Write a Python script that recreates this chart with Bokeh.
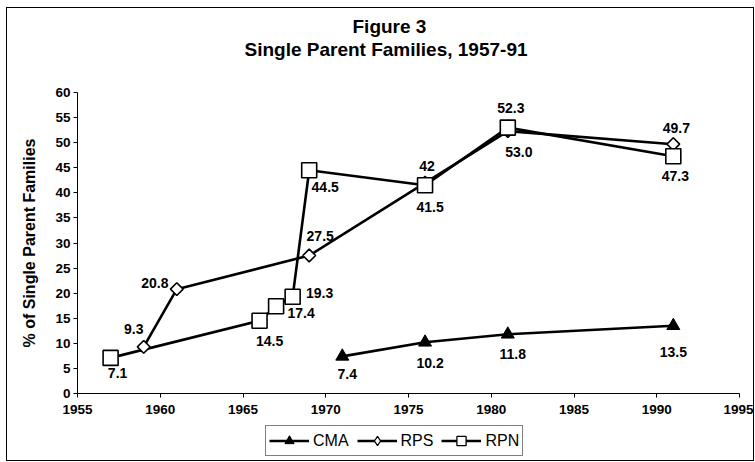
from bokeh.plotting import figure
from bokeh.layouts import column
from bokeh.models import Legend, LegendItem, Title, FixedTicker, ColumnDataSource, Range1d
from bokeh.core.properties import value
from bokeh.embed import file_html
from bokeh.resources import INLINE
import math

# ---------------- data ----------------
cma_years = [1971, 1976, 1981, 1991]
cma_values = [7.4, 10.2, 11.8, 13.5]
cma_labels = ["7.4", "10.2", "11.8", "13.5"]

rps_years = [1959, 1961, 1969, 1976, 1981, 1991]
rps_values = [9.3, 20.8, 27.5, 42, 52.3, 49.7]
rps_labels = ["9.3", "20.8", "27.5", "42", "52.3", "49.7"]

rpn_years = [1957, 1966, 1967, 1968, 1969, 1976, 1981, 1991]
rpn_values = [7.1, 14.5, 17.4, 19.3, 44.5, 41.5, 53.0, 47.3]
rpn_labels = ["7.1", "14.5", "17.4", "19.3", "44.5", "41.5", "53.0", "47.3"]

x_ticks = [1955, 1960, 1965, 1970, 1975, 1980, 1985, 1990, 1995]
y_ticks = [0, 5, 10, 15, 20, 25, 30, 35, 40, 45, 50, 55, 60]

# label placement offsets in screen pixels (style only)
cma_dx = [5, 5, 5, 0]
cma_dy = [18, 21, 20, 26]
rps_dx = [-10, -22, 11, 2, 3, 3]
rps_dy = [-18, -6, -20, -17, -23, -16]
rpn_dx = [7, 10, 25, 27, 16, 5, 11, 2]
rpn_dy = [15, 20, 7, -4, 17, 22, 24, 20]

FONT = "Liberation Sans"

cma_src = ColumnDataSource(dict(x=cma_years, y=cma_values, t=cma_labels, dx=cma_dx, dy=cma_dy))
rps_src = ColumnDataSource(dict(x=rps_years, y=rps_values, t=rps_labels, dx=rps_dx, dy=rps_dy))
rpn_src = ColumnDataSource(dict(x=rpn_years, y=rpn_values, t=rpn_labels, dx=rpn_dx, dy=rpn_dy))

p = figure(frame_width=662, frame_height=301, x_range=(1955, 1995), y_range=(0, 60),
           output_backend="svg", toolbar_location=None,
           min_border_left=70, min_border_right=14, min_border_top=84, min_border_bottom=28)
p.outline_line_color = None
p.xgrid.visible = False
p.ygrid.visible = False
p.background_fill_color = "white"
p.border_fill_color = "white"

# titles (spacer nearest the frame, then the two title lines)
title_kw = dict(align="left", text_font=FONT, text_font_size="19px",
                text_font_style="bold", text_color="black")
p.add_layout(Title(text=" ", standoff=10, **title_kw), "above")
p.add_layout(Title(text="Single Parent Families, 1957-91", offset=167, standoff=0, **title_kw), "above")
p.add_layout(Title(text="Figure 3", offset=275, standoff=0, **title_kw), "above")

# axes
for ax in (p.xaxis[0], p.yaxis[0]):
    ax.axis_line_color = "black"
    ax.axis_line_width = 1
    ax.major_tick_line_color = "black"
    ax.minor_tick_line_color = None
    ax.major_tick_in = 0
    ax.major_tick_out = 4
    ax.major_label_text_font = FONT
    ax.major_label_text_font_style = "bold"
    ax.major_label_text_font_size = "13.5px"
    ax.major_label_text_color = "black"
p.xaxis.ticker = FixedTicker(ticks=x_ticks)
p.yaxis.ticker = FixedTicker(ticks=y_ticks)
p.xaxis.major_label_standoff = 7
p.yaxis.major_label_standoff = 3
p.yaxis.axis_label = "% of Single Parent Families"
p.yaxis.axis_label_text_font = FONT
p.yaxis.axis_label_text_font_style = "bold"
p.yaxis.axis_label_text_font_size = "16px"
p.yaxis.axis_label_text_color = "black"
p.yaxis.axis_label_standoff = 14

LW = 2.6
p.line("x", "y", source=rpn_src, line_color="black", line_width=LW)
p.line("x", "y", source=rps_src, line_color="black", line_width=LW)
p.line("x", "y", source=cma_src, line_color="black", line_width=LW)

p.scatter("x", "y", source=rps_src, marker="square", angle=math.pi / 4, size=9,
          fill_color="white", line_color="black", line_width=1.6)
p.scatter("x", "y", source=rpn_src, marker="square", size=15,
          fill_color="white", line_color="black", line_width=1.6)
p.scatter("x", "y", source=cma_src, marker="triangle", size=13,
          fill_color="black", line_color="black", line_width=1)

for src in (cma_src, rps_src, rpn_src):
    p.text("x", "y", text="t", source=src, x_offset="dx", y_offset="dy",
           text_align="center", text_baseline="middle",
           text_font=value(FONT), text_font_size="14px",
           text_font_style="bold", text_color="black")

# ---------------- legend strip under the chart ----------------
lp = figure(width=746, height=39, x_range=Range1d(0, 1), y_range=Range1d(0, 1),
            output_backend="svg", toolbar_location=None,
            x_axis_type=None, y_axis_type=None,
            min_border_left=0, min_border_right=0, min_border_top=0, min_border_bottom=0)
lp.outline_line_color = None
lp.xgrid.visible = False
lp.ygrid.visible = False
lp.border_fill_color = "white"
lp.background_fill_color = "white"

NAN = [float("nan")]
g_cma_l = lp.line(x=NAN, y=NAN, line_color="black", line_width=LW)
g_cma_m = lp.scatter(x=NAN, y=NAN, marker="triangle", size=12, fill_color="black", line_color="black")
g_rps_l = lp.line(x=NAN, y=NAN, line_color="black", line_width=LW)
g_rps_m = lp.scatter(x=NAN, y=NAN, marker="diamond", size=12, fill_color="white",
                     line_color="black", line_width=1.3)
g_rpn_l = lp.line(x=NAN, y=NAN, line_color="black", line_width=LW)
g_rpn_m = lp.scatter(x=NAN, y=NAN, marker="square", size=12, fill_color="white",
                     line_color="black", line_width=1.3)

legend = Legend(items=[
    LegendItem(label="CMA", renderers=[g_cma_l, g_cma_m]),
    LegendItem(label="RPS", renderers=[g_rps_l, g_rps_m]),
    LegendItem(label="RPN", renderers=[g_rpn_l, g_rpn_m]),
], orientation="horizontal", location=(188, 4))
legend.border_line_color = "black"
legend.border_line_width = 1
legend.label_text_font = FONT
legend.label_text_font_size = "16px"
legend.label_text_color = "black"
legend.glyph_width = 40
legend.glyph_height = 23
legend.label_standoff = 4
legend.spacing = 8
legend.padding = 3
legend.margin = 0
legend.background_fill_alpha = 1
lp.add_layout(legend, "center")

layout = column(p, lp, spacing=0)
layout.styles = {"border": "1px solid black", "margin": "7px 0px 0px 6px"}

open("out.html", "w").write(file_html(layout, INLINE))
